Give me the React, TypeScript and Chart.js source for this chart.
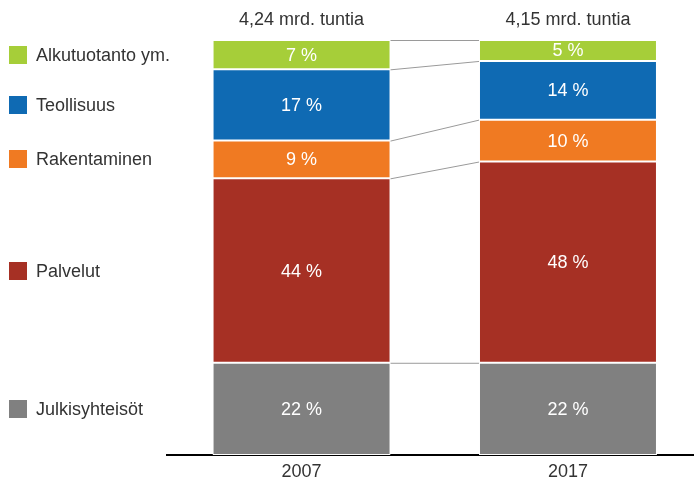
import React, { useEffect, useRef } from 'react';
import { Chart, registerables } from 'chart.js';

Chart.register(...registerables);

const years = ['2007', '2017'];
const totals = ['4,24 mrd. tuntia', '4,15 mrd. tuntia'];
const sectors = ['Julkisyhteisöt', 'Palvelut', 'Rakentaminen', 'Teollisuus', 'Alkutuotanto ym.'];
const sectorColors = ['#808080', '#a63024', '#f07a22', '#0f6ab3', '#a6ce39'];
const julkisyhteisot = [22, 22];
const palvelut = [44, 48];
const rakentaminen = [9, 10];
const teollisuus = [17, 14];
const alkutuotanto = [7, 5];
const seriesValues = [julkisyhteisot, palvelut, rakentaminen, teollisuus, alkutuotanto];

const FONT = '"Liberation Sans", Arial, sans-serif';
const TEXT = '#333333';

const overlay = {
  id: 'overlay',
  afterDatasetsDraw(chart: any) {
    const ctx = chart.ctx;
    ctx.save();
    // connector lines between bars
    ctx.strokeStyle = '#9a9a9a';
    ctx.lineWidth = 1;
    chart.data.datasets.forEach((_: any, di: number) => {
      const meta = chart.getDatasetMeta(di);
      const a = meta.data[0].getProps(['x', 'y', 'base', 'width'], true);
      const b = meta.data[1].getProps(['x', 'y', 'base', 'width'], true);
      ctx.beginPath();
      ctx.moveTo(a.x + a.width / 2, a.y + 0.5);
      ctx.lineTo(b.x - b.width / 2, b.y + 0.5);
      ctx.stroke();
    });
    // value labels inside bars
    ctx.font = '18px ' + FONT;
    ctx.textAlign = 'center';
    ctx.textBaseline = 'middle';
    ctx.fillStyle = '#ffffff';
    chart.data.datasets.forEach((ds: any, di: number) => {
      const meta = chart.getDatasetMeta(di);
      meta.data.forEach((el: any, i: number) => {
        const p = el.getProps(['x', 'y', 'base'], true);
        ctx.fillText(seriesValues[di][i] + ' %', p.x, (p.y + p.base) / 2 + 1);
      });
    });
    // totals above bars
    ctx.fillStyle = TEXT;
    const topMeta = chart.getDatasetMeta(chart.data.datasets.length - 1);
    topMeta.data.forEach((el: any, i: number) => {
      const p = el.getProps(['x', 'y'], true);
      ctx.fillText(totals[i], p.x, chart.chartArea.top - 20);
    });
    // legend aligned with first bar segments
    ctx.textAlign = 'left';
    chart.data.datasets.forEach((ds: any, di: number) => {
      const meta = chart.getDatasetMeta(di);
      const p = meta.data[0].getProps(['y', 'base'], true);
      const cy = (p.y + p.base) / 2;
      ctx.fillStyle = sectorColors[di];
      ctx.fillRect(9, Math.round(cy - 9), 18, 18);
      ctx.fillStyle = TEXT;
      ctx.fillText(sectors[di], 36, cy + 1);
    });
    ctx.restore();
  },
};

export default function App() {
  const ref = useRef<HTMLCanvasElement | null>(null);
  useEffect(() => {
    if (!ref.current) return;
    const chart = new Chart(ref.current, {
      type: 'bar',
      data: {
        datasets: seriesValues.map((vals, di) => ({
          label: sectors[di],
          data: vals.map((v, i) => ({ x: i, y: v })),
          backgroundColor: sectorColors[di],
          borderColor: '#ffffff',
          borderWidth: 1,
          borderSkipped: false,
          grouped: false,
          categoryPercentage: 1,
          barPercentage: 0.668,
        })),
      },
      options: {
        animation: false,
        responsive: false,
        layout: { padding: { left: 167, right: 0, top: 40, bottom: -8 } },
        plugins: { legend: { display: false }, tooltip: { enabled: false } },
        scales: {
          x: {
            type: 'linear',
            offset: false,
            min: -0.505,
            max: 1.473,
            grid: { display: false, drawTicks: false },
            border: { display: true, color: '#000000', width: 2 },
            afterBuildTicks: (s: any) => {
              s.ticks = years.map((_, i) => ({ value: i }));
            },
            ticks: {
              callback: (v: any) => years[v] ?? '',
              font: { family: FONT, size: 18, lineHeight: 1 },
              color: TEXT,
              padding: 8,
              maxRotation: 0,
              autoSkip: false,
            },
          },
          y: {
            display: false,
            stacked: true,
            min: 0,
            max: 99,
          },
        },
      },
      plugins: [overlay],
    } as any);
    return () => chart.destroy();
  }, []);
  return (
    <div style={{ position: 'absolute', left: 0, top: 0, width: 694, height: 481, background: '#fff' }}>
      <canvas ref={ref} width={694} height={481} style={{ display: 'block' }} />
    </div>
  );
}
